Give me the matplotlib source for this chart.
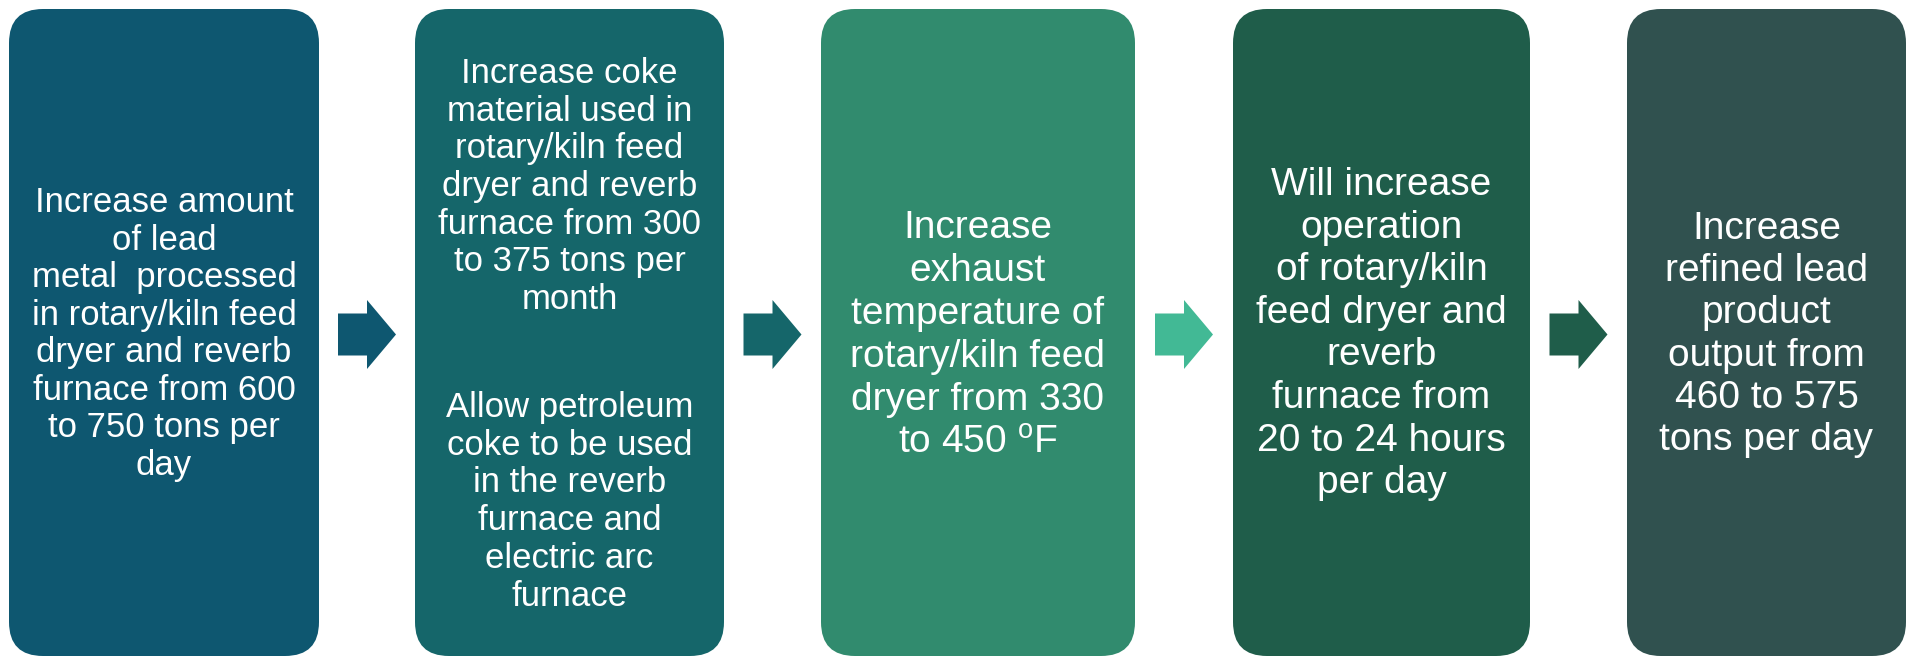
import matplotlib
matplotlib.use("Agg")
import matplotlib.pyplot as plt
from matplotlib.patches import FancyBboxPatch, Polygon

plt.rcParams['font.family'] = ['Liberation Sans', 'DejaVu Sans']
plt.rcParams['mathtext.fontset'] = 'custom'
plt.rcParams['mathtext.rm'] = 'Liberation Sans'

W, H = 1908, 657

# box layout (pixels)
BOX_LEFT  = [9, 415, 821, 1233, 1627]
BOX_RIGHT = [319, 724, 1135, 1530, 1906]
BOX_TOP, BOX_BOTTOM = 9, 656
BOX_COLORS   = ["#0E5770", "#15666A", "#318B6E", "#1F5D4A", "#30514F"]
ARROW_COLORS = ["#0E5770", "#15666A", "#42B995", "#1F5D4A"]

# text of each box (box 2 has two paragraphs)
TEXT_1 = ["Increase amount", "of lead", "metal  processed", "in rotary/kiln feed",
          "dryer and reverb", "furnace from 600", "to 750 tons per", "day"]
TEXT_2A = ["Increase coke", "material used in", "rotary/kiln feed", "dryer and reverb",
           "furnace from 300", "to 375 tons per", "month"]
TEXT_2B = ["Allow petroleum", "coke to be used", "in the reverb", "furnace and",
           "electric arc", "furnace"]
TEXT_3 = ["Increase", "exhaust", "temperature of", "rotary/kiln feed",
          "dryer from 330", r"to 450 $\mathregular{^o}$F"]
TEXT_4 = ["Will increase", "operation", "of rotary/kiln", "feed dryer and",
          "reverb", "furnace from", "20 to 24 hours", "per day"]
TEXT_5 = ["Increase", "refined lead", "product", "output from",
          "460 to 575", "tons per day"]

# (box index, lines, first baseline, line step, font size)
BLOCKS = [
    (0, TEXT_1, 212, 37.5, 25),
    (1, TEXT_2A, 83, 37.7, 25),
    (1, TEXT_2B, 417, 37.7, 25),
    (2, TEXT_3, 238, 43.0, 28),
    (3, TEXT_4, 195, 42.6, 28),
    (4, TEXT_5, 239, 42.2, 28),
]

fig = plt.figure(figsize=(W / 100, H / 100), dpi=100)
ax = fig.add_axes([0, 0, 1, 1])
ax.set_xlim(0, W)
ax.set_ylim(H, 0)
ax.axis('off')

for x0, x1, c in zip(BOX_LEFT, BOX_RIGHT, BOX_COLORS):
    ax.add_patch(FancyBboxPatch((x0, BOX_TOP), x1 - x0, BOX_BOTTOM - BOX_TOP,
                                boxstyle="round,pad=0,rounding_size=34",
                                fc=c, ec='none'))

# arrows centred in the gaps between boxes
AW, SHAFT_H, HEAD_H, HEAD_L = 58, 42, 69, 29
YC = 334.5
for i, c in enumerate(ARROW_COLORS):
    xc = (BOX_RIGHT[i] + BOX_LEFT[i + 1]) / 2
    xa, xb = xc - AW / 2, xc + AW / 2
    xh = xb - HEAD_L
    pts = [(xa, YC - SHAFT_H / 2), (xh, YC - SHAFT_H / 2), (xh, YC - HEAD_H / 2),
           (xb, YC), (xh, YC + HEAD_H / 2), (xh, YC + SHAFT_H / 2),
           (xa, YC + SHAFT_H / 2)]
    ax.add_patch(Polygon(pts, closed=True, fc=c, ec='none'))

for bi, lines, y0, step, fs in BLOCKS:
    xc = (BOX_LEFT[bi] + BOX_RIGHT[bi]) / 2
    for k, line in enumerate(lines):
        ax.text(xc, y0 + k * step, line, color='white', fontsize=fs,
                ha='center', va='baseline')

fig.savefig("out.png", dpi=100, facecolor='white')
